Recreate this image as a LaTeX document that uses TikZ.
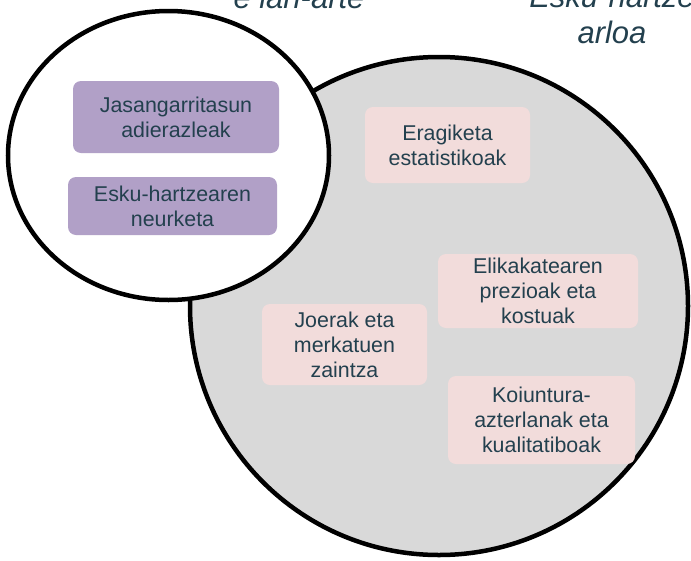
\documentclass[tikz,border=0pt]{standalone}
\usepackage{fontspec}
\setmainfont{Liberation Sans}
\definecolor{textteal}{HTML}{23404E}
\definecolor{lila}{HTML}{B1A0C7}
\definecolor{arrosa}{HTML}{F2DCDB}
\definecolor{greyfill}{HTML}{D9D9D9}
\begin{document}
\begin{tikzpicture}[x=1pt,y=-1pt,
    lilabox/.style={fill=lila,rounded corners=8pt,align=center,text=textteal,
      font=\fontsize{21.4}{25}\selectfont,inner sep=0pt},
    pinkbox/.style={fill=arrosa,rounded corners=8pt,align=center,text=textteal,
      font=\fontsize{21.4}{25}\selectfont,inner sep=0pt},
    areatitle/.style={align=center,text=textteal,
      font=\fontsize{31}{36}\selectfont\itshape,inner sep=0pt}]
  \useasboundingbox (0,0) rectangle (691,560);
  \clip (0,0) rectangle (691,560);

  % the two areas
  \draw[line width=4.5pt,fill=greyfill] (439,306) circle[radius=249pt];
  \draw[line width=4.5pt,fill=white] (168.5,155.5) ellipse[x radius=160.5pt,y radius=144.5pt];

  % titles, cut by the page
  \node[areatitle,anchor=base] (worktitle) at (299,8) {e lan-arte};
  \node[areatitle,anchor=base] (esktitle) at (612,43) {Esku-hartze\\arloa};

  % small circle
  \node[lilabox,minimum width=206pt,minimum height=72pt] (jasang) at (176,117) {Jasangarritasun\\adierazleak};
  \node[lilabox,minimum width=209pt,minimum height=58pt] (neurketa) at (172.5,206) {Esku-hartzearen\\neurketa};

  % big circle
  \node[pinkbox,minimum width=165pt,minimum height=76pt] (eragiketa) at (447.5,145) {Eragiketa\\estatistikoak};
  \node[pinkbox,minimum width=200pt,minimum height=74pt] (prezioak) at (538,291) {Elikakatearen\\prezioak eta\\kostuak};
  \node[pinkbox,minimum width=165pt,minimum height=81pt] (joerak) at (344.5,344.5) {Joerak eta\\merkatuen\\zaintza};
  \node[pinkbox,minimum width=187pt,minimum height=88pt] (koiuntura) at (541.5,420) {Koiuntura-\\azterlanak eta\\kualitatiboak};
\end{tikzpicture}
\end{document}
